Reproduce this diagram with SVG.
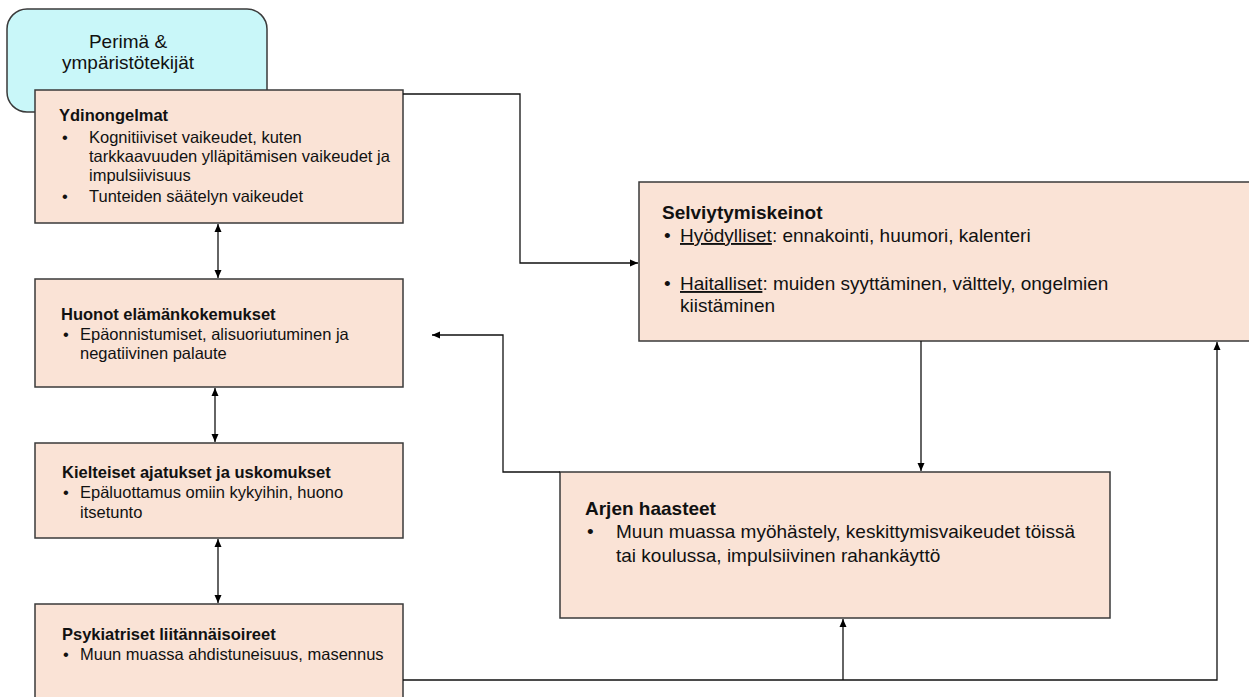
<svg xmlns="http://www.w3.org/2000/svg" width="1249" height="697" viewBox="0 0 1249 697">
<defs>
<marker id="arr" markerUnits="userSpaceOnUse" markerWidth="8" markerHeight="8" refX="8" refY="4" orient="auto-start-reverse">
<path d="M0,0.5 L8,4 L0,7.5 z" fill="#000"/>
</marker>
<style>
.box{fill:#FAE3D6;stroke:#3a3a3a;stroke-width:1.5}
.cyan{fill:#C9F7F9;stroke:#3a3a3a;stroke-width:1.5}
text{font-family:"Liberation Sans",Arial,sans-serif;fill:#111}
.s{font-size:16.5px}
.l{font-size:19px}
.b{font-weight:bold}
.c{fill:none;stroke:#111;stroke-width:1.3}
.u{text-decoration:underline}
</style>
</defs>
<rect width="1249" height="697" fill="#fff"/>
<g id="perima">
<rect class="cyan" x="7" y="9" width="260" height="103" rx="20" ry="20"/>
<text class="l" x="128" y="48" text-anchor="middle">Perimä &amp;</text>
<text class="l" x="128" y="69" text-anchor="middle">ympäristötekijät</text>
</g>
<g id="ydinongelmat">
<rect class="box" x="35" y="90" width="368" height="133"/>
<text class="s b" x="59" y="121">Ydinongelmat</text>
<text class="s" x="62" y="143">•</text>
<text class="s" x="89" y="143">Kognitiiviset vaikeudet, kuten</text>
<text class="s" x="89" y="162">tarkkaavuuden ylläpitämisen vaikeudet ja</text>
<text class="s" x="89" y="181">impulsiivisuus</text>
<text class="s" x="62" y="202">•</text>
<text class="s" x="89" y="202">Tunteiden säätelyn vaikeudet</text>
</g>
<g id="huonot">
<rect class="box" x="35" y="279" width="368" height="108"/>
<text class="s b" x="61" y="320">Huonot elämänkokemukset</text>
<text class="s" x="63" y="340">•</text>
<text class="s" x="80" y="340">Epäonnistumiset, alisuoriutuminen ja</text>
<text class="s" x="80" y="359">negatiivinen palaute</text>
</g>
<g id="kielteiset">
<rect class="box" x="35" y="443" width="368" height="95"/>
<text class="s b" x="62" y="478">Kielteiset ajatukset ja uskomukset</text>
<text class="s" x="63" y="498">•</text>
<text class="s" x="80" y="498">Epäluottamus omiin kykyihin, huono</text>
<text class="s" x="80" y="518">itsetunto</text>
</g>
<g id="psykiatriset">
<rect class="box" x="35" y="604" width="368" height="100"/>
<text class="s b" x="62" y="640">Psykiatriset liitännäisoireet</text>
<text class="s" x="63" y="660">•</text>
<text class="s" x="80" y="660">Muun muassa ahdistuneisuus, masennus</text>
</g>
<g id="selviytymiskeinot">
<rect class="box" x="639" y="182" width="612" height="159"/>
<text class="l b" x="662" y="219">Selviytymiskeinot</text>
<text class="l" x="664" y="242">•</text>
<text class="l" x="680" y="242"><tspan class="u">Hyödylliset</tspan>: ennakointi, huumori, kalenteri</text>
<text class="l" x="664" y="290">•</text>
<text class="l" x="680" y="290"><tspan class="u">Haitalliset</tspan>: muiden syyttäminen, välttely, ongelmien</text>
<text class="l" x="680" y="312">kiistäminen</text>
</g>
<g id="arjen">
<rect class="box" x="560" y="472" width="550" height="146"/>
<text class="l b" x="585" y="515">Arjen haasteet</text>
<text class="l" x="587" y="538">•</text>
<text class="l" x="616" y="538">Muun muassa myöhästely, keskittymisvaikeudet töissä</text>
<text class="l" x="616" y="562">tai koulussa, impulsiivinen rahankäyttö</text>
</g>
<g id="connectors">
<line class="c" x1="218" y1="224" x2="218" y2="278" marker-start="url(#arr)" marker-end="url(#arr)"/>
<line class="c" x1="215" y1="388" x2="215" y2="442" marker-start="url(#arr)" marker-end="url(#arr)"/>
<line class="c" x1="218" y1="539" x2="218" y2="603" marker-start="url(#arr)" marker-end="url(#arr)"/>
<polyline class="c" points="403,94 520,94 520,263 638,263" marker-end="url(#arr)"/>
<line class="c" x1="921" y1="341" x2="921" y2="471" marker-end="url(#arr)"/>
<polyline class="c" points="560,472 503,472 503,335 432,335" marker-end="url(#arr)"/>
<polyline class="c" points="403,680 1217,680 1217,342" marker-end="url(#arr)"/>
<line class="c" x1="843" y1="680" x2="843" y2="619" marker-end="url(#arr)"/>
</g>
</svg>
